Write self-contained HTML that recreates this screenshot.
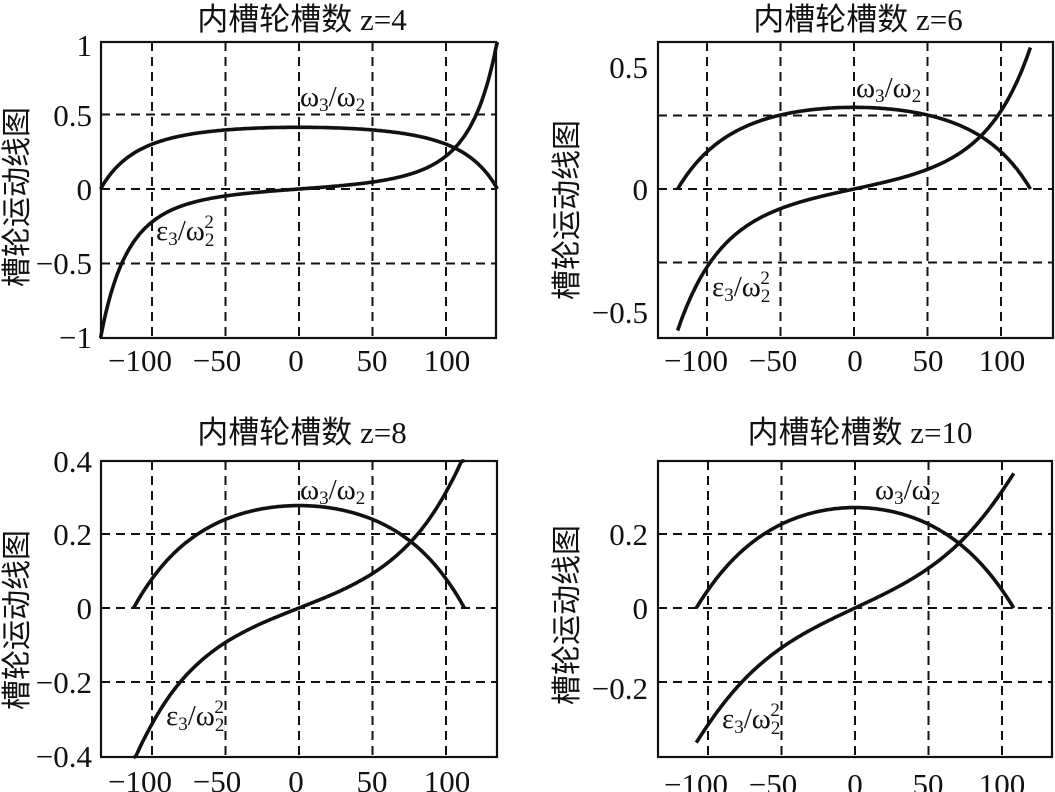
<!DOCTYPE html>
<html><head><meta charset="utf-8"><style>
html,body{margin:0;padding:0;background:#fff;}
svg{display:block;}
text{font-family:"Liberation Serif","Noto Serif CJK SC",serif;fill:#111;}
.t{font-size:31px;text-anchor:middle;}
.tk{font-size:31px;}
.xl{text-anchor:middle;}
.yl{text-anchor:end;}
.cj{font-family:"Liberation Serif","Noto Sans CJK SC",sans-serif;font-size:30px;text-anchor:middle;}
.an{font-size:29px;}
.g{stroke:#111;stroke-width:2;stroke-dasharray:9 6;fill:none;}
.f{stroke:#111;stroke-width:2.2;fill:none;}
.c{stroke:#111;stroke-width:3.6;fill:none;stroke-linejoin:round;}
</style></head><body>
<svg id="s" width="1055" height="792" viewBox="0 0 1055 792" xmlns="http://www.w3.org/2000/svg">
<text class="t" x="302" y="30"><tspan font-family="Noto Sans CJK SC">内槽轮槽数</tspan> z=4</text>
<text class="t" x="858" y="30"><tspan font-family="Noto Sans CJK SC">内槽轮槽数</tspan> z=6</text>
<text class="t" x="302" y="443"><tspan font-family="Noto Sans CJK SC">内槽轮槽数</tspan> z=8</text>
<text class="t" x="860" y="443"><tspan font-family="Noto Sans CJK SC">内槽轮槽数</tspan> z=10</text>
<text class="cj" transform="translate(27,197) rotate(-90)">槽轮运动线图</text>
<text class="cj" transform="translate(577,210) rotate(-90)">槽轮运动线图</text>
<text class="cj" transform="translate(27,620) rotate(-90)">槽轮运动线图</text>
<text class="cj" transform="translate(577,615) rotate(-90)">槽轮运动线图</text>
<g class="tk">
<text class="yl" x="92" y="56">1</text>
<text class="yl" x="92" y="126">0.5</text>
<text class="yl" x="92" y="200">0</text>
<text class="yl" x="92" y="274">−0.5</text>
<text class="yl" x="92" y="348">−1</text>
<text class="xl" x="140" y="371">−100</text>
<text class="xl" x="217" y="371">−50</text>
<text class="xl" x="296" y="371">0</text>
<text class="xl" x="372" y="371">50</text>
<text class="xl" x="447" y="371">100</text>
<text class="yl" x="648" y="78">0.5</text>
<text class="yl" x="648" y="200">0</text>
<text class="yl" x="648" y="323">−0.5</text>
<text class="xl" x="696" y="371">−100</text>
<text class="xl" x="773" y="371">−50</text>
<text class="xl" x="855" y="371">0</text>
<text class="xl" x="928" y="371">50</text>
<text class="xl" x="1002" y="371">100</text>
<text class="yl" x="92" y="472">0.4</text>
<text class="yl" x="92" y="545">0.2</text>
<text class="yl" x="92" y="619">0</text>
<text class="yl" x="92" y="693">−0.2</text>
<text class="yl" x="92" y="767">−0.4</text>
<text class="xl" x="140" y="792">−100</text>
<text class="xl" x="217" y="792">−50</text>
<text class="xl" x="296" y="792">0</text>
<text class="xl" x="372" y="792">50</text>
<text class="xl" x="447" y="792">100</text>
<text class="yl" x="648" y="545">0.2</text>
<text class="yl" x="648" y="619">0</text>
<text class="yl" x="648" y="699">−0.2</text>
<text class="xl" x="696" y="795">−100</text>
<text class="xl" x="773" y="795">−50</text>
<text class="xl" x="855" y="795">0</text>
<text class="xl" x="928" y="795">50</text>
<text class="xl" x="1002" y="795">100</text>
</g>
<g class="an">
<text x="300" y="106">ω<tspan font-size="19" dy="5">3</tspan><tspan dy="-5">/ω</tspan><tspan font-size="19" dy="5">2</tspan></text>
<text x="156" y="240">ε<tspan font-size="19" dy="5">3</tspan><tspan dy="-5">/ω</tspan><tspan font-size="19" dy="6">2</tspan><tspan font-size="19" dx="-10" dy="-18">2</tspan></text>
<text x="856" y="97">ω<tspan font-size="19" dy="5">3</tspan><tspan dy="-5">/ω</tspan><tspan font-size="19" dy="5">2</tspan></text>
<text x="712" y="296">ε<tspan font-size="19" dy="5">3</tspan><tspan dy="-5">/ω</tspan><tspan font-size="19" dy="6">2</tspan><tspan font-size="19" dx="-10" dy="-18">2</tspan></text>
<text x="300" y="499">ω<tspan font-size="19" dy="5">3</tspan><tspan dy="-5">/ω</tspan><tspan font-size="19" dy="5">2</tspan></text>
<text x="166" y="725">ε<tspan font-size="19" dy="5">3</tspan><tspan dy="-5">/ω</tspan><tspan font-size="19" dy="6">2</tspan><tspan font-size="19" dx="-10" dy="-18">2</tspan></text>
<text x="875" y="499">ω<tspan font-size="19" dy="5">3</tspan><tspan dy="-5">/ω</tspan><tspan font-size="19" dy="5">2</tspan></text>
<text x="722" y="728">ε<tspan font-size="19" dy="5">3</tspan><tspan dy="-5">/ω</tspan><tspan font-size="19" dy="6">2</tspan><tspan font-size="19" dx="-10" dy="-18">2</tspan></text>
</g>
<g id="plots"></g>
</svg>
<script>
var P=[
 {z:4,L:101,R:496,T:42,B:338,x0:299,sx:1.47,y0:189,sy:149,yg:[0.5,-0.5],ks:1,es:1},
 {z:6,L:658,R:1053,T:42,B:338,x0:854,sx:1.47,y0:189,sy:245,yg:[0.3,-0.3],ks:1,es:1},
 {z:8,L:101,R:497,T:461,B:757,x0:299,sx:1.47,y0:608,sy:370,yg:[0.2,-0.2],ks:1,es:1},
 {z:10,L:658,R:1052,T:461,B:757,x0:855,sx:1.47,y0:608,sy:370,yg:[0.2,-0.2],ks:1.15,es:1.12}
];
var h='';
P.forEach(function(p){
 [-100,-50,0,50,100].forEach(function(v){var x=p.x0+v*p.sx;h+='<line class="g" x1="'+x+'" y1="'+p.T+'" x2="'+x+'" y2="'+p.B+'"/>';});
 [0].concat(p.yg).forEach(function(v){var y=p.y0-v*p.sy;h+='<line class="g" x1="'+p.L+'" y1="'+y+'" x2="'+p.R+'" y2="'+y+'"/>';});
 h+='<rect class="f" x="'+p.L+'" y="'+p.T+'" width="'+(p.R-p.L)+'" height="'+(p.B-p.T)+'"/>';
 var lam=Math.sin(Math.PI/p.z), f0=90+180/p.z, a='',b='';
 for(var i=0;i<=300;i++){
  var d=-f0+2*f0*i/300, r=d*Math.PI/180, c=Math.cos(r), s=Math.sin(r);
  var D=1+2*lam*c+lam*lam;
  var w=Math.max(0,lam*(lam+c)/D)*p.ks, e=lam*s*(1-lam*lam)/(D*D)*p.es;
  var x=(p.x0+d*p.sx).toFixed(1);
  a+=(i?'L':'M')+x+','+(p.y0-w*p.sy).toFixed(1);
  var ye=Math.max(p.T,Math.min(p.B,p.y0-e*p.sy));
  b+=(i?'L':'M')+x+','+ye.toFixed(1);
 }
 h+='<path class="c" d="'+a+'"/><path class="c" d="'+b+'"/>';
});
document.getElementById('plots').innerHTML=h;
</script>
</body></html>
